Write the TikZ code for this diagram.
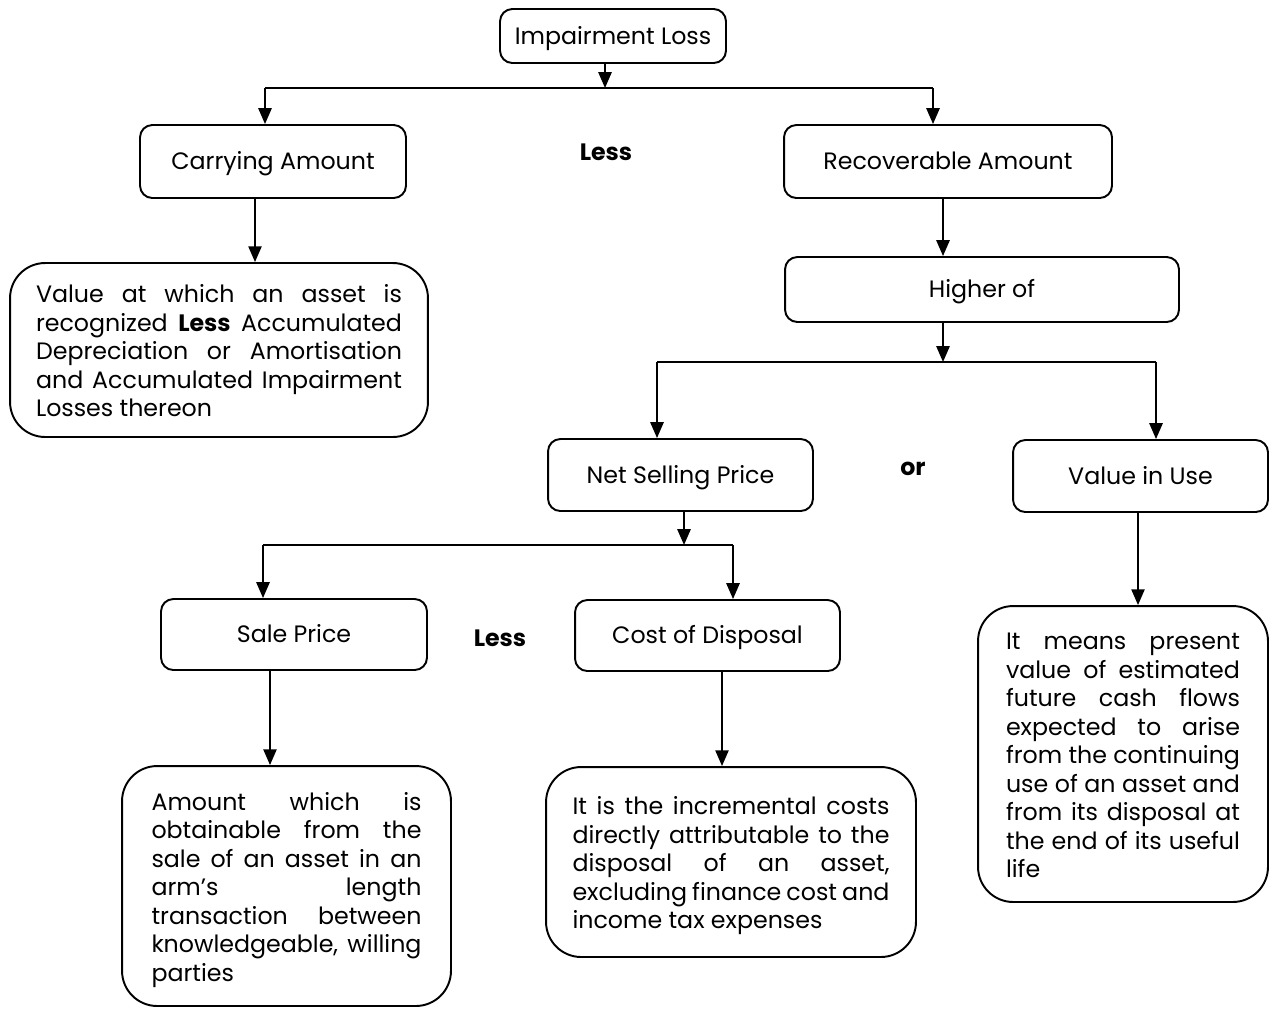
\documentclass[tikz,border=0pt]{standalone}
\usepackage{fontspec}
\setmainfont{Poppins}
\usepackage{tikz}
\usetikzlibrary{arrows.meta, positioning}
\tikzset{>={Triangle[length=9pt,width=7.5pt]}}
\def\unit{0.02cm}
\newcommand{\boxfont}{\fontsize{13.5}{16.2}\selectfont}
\tikzset{
    box/.style={draw, line width=1.1pt, rounded corners=7pt, align=center, inner sep=0pt, text height=12pt, text depth=2.5pt, font=\boxfont},
    descbox/.style={draw, line width=1.1pt, rounded corners=20pt, align=justify, inner ysep=0pt, font=\boxfont,
        execute at begin node={\rule{0pt}{15pt}}, execute at end node={\rule[-4pt]{0pt}{0pt}}},
    word/.style={font=\boxfont\bfseries},
    bar/.style={line width=1.1pt},
    link/.style={line width=1.1pt, ->}
}

\begin{document}
\begin{tikzpicture}[x=0.02cm, y=-0.02cm]
    \useasboundingbox (0,0) rectangle (1270,1009);

    % top level
    \node[box, minimum width=4.52cm, minimum height=1.08cm] (imp) at (613,36) {Impairment Loss};
    \node[box, minimum width=5.32cm, minimum height=1.46cm] (ca) at (273,161.5) {Carrying Amount};
    \node[box, minimum width=6.56cm, minimum height=1.46cm] (ra) at (948,161.5) {Recoverable Amount};
    \node[word] (less1) at (606,152) {Less};

    \node[descbox, text width=7.32cm, inner xsep=0.52cm, minimum height=3.48cm] (cadesc) at (219,350)
        {Value at which an asset is\linebreak recognized \textbf{Less} Accumulated\linebreak Depreciation or Amortisation\linebreak and Accumulated Impairment\linebreak Losses thereon};

    % recoverable amount
    \node[box, minimum width=7.88cm, minimum height=1.30cm] (ho) at (982,289.5) {Higher of};
    \node[box, minimum width=5.30cm, minimum height=1.44cm] (nsp) at (680.5,475) {Net Selling Price};
    \node[box, minimum width=5.10cm, minimum height=1.44cm] (viu) at (1140.5,476) {Value in Use};
    \node[word] (or) at (913,469) {or};

    % net selling price
    \node[box, minimum width=5.32cm, minimum height=1.42cm] (sp) at (294,634.5) {Sale Price};
    \node[box, minimum width=5.30cm, minimum height=1.42cm] (cod) at (707.5,635.5) {Cost of Disposal};
    \node[word] (less2) at (500,638) {Less};

    \node[descbox, text width=5.40cm, inner xsep=0.59cm, minimum height=4.80cm] (spdesc) at (286.5,886)
        {Amount which is\linebreak obtainable from the\linebreak sale of an asset in an\linebreak arm’s length\linebreak transaction between\linebreak knowledgeable, willing\linebreak parties};
    \node[descbox, text width=6.34cm, inner xsep=0.53cm, minimum height=3.80cm] (coddesc) at (731,862)
        {It is the incremental costs\linebreak directly attributable to the\linebreak disposal of an asset,\linebreak excluding finance cost and\linebreak income tax expenses};
    \node[descbox, text width=4.68cm, inner xsep=0.56cm, minimum height=5.92cm] (viudesc) at (1123,754)
        {It means present\linebreak value of estimated\linebreak future cash flows\linebreak expected to arise\linebreak from the continuing\linebreak use of an asset and\linebreak from its disposal at\linebreak the end of its useful\linebreak life};

    % junctions
    \coordinate (j1) at (605,88);
    \coordinate (j1l) at (265,88);
    \coordinate (j1r) at (933,88);
    \coordinate (j2) at (943,362);
    \coordinate (j2l) at (657,362);
    \coordinate (j2r) at (1156,362);
    \coordinate (j3) at (684,545);
    \coordinate (j3l) at (263,545);
    \coordinate (j3r) at (733,545);

    \draw[link] (imp.south -| j1) -- (j1);
    \draw[bar] (j1l) -- (j1r);
    \draw[link] (j1l) -- (j1l |- ca.north);
    \draw[link] (j1r) -- (j1r |- ra.north);

    \draw[link] ([xshift=-18*\unit]ca.south) -- ([xshift=-18*\unit]ca.south |- cadesc.north);
    \draw[link] ([xshift=-5*\unit]ra.south) -- ([xshift=-5*\unit]ra.south |- ho.north);

    \draw[link] (ho.south -| j2) -- (j2);
    \draw[bar] (j2l) -- (j2r);
    \draw[link] (j2l) -- (j2l |- nsp.north);
    \draw[link] (j2r) -- (j2r |- viu.north);

    \draw[link] (nsp.south -| j3) -- (j3);
    \draw[bar] (j3l) -- (j3r);
    \draw[link] (j3l) -- (j3l |- sp.north);
    \draw[link] (j3r) -- (j3r |- cod.north);

    \draw[link] ([xshift=-24*\unit]sp.south) -- ([xshift=-24*\unit]sp.south |- spdesc.north);
    \draw[link] ([xshift=14.5*\unit]cod.south) -- ([xshift=14.5*\unit]cod.south |- coddesc.north);
    \draw[link] ([xshift=-2.5*\unit]viu.south) -- ([xshift=-2.5*\unit]viu.south |- viudesc.north);

\end{tikzpicture}
\end{document}
